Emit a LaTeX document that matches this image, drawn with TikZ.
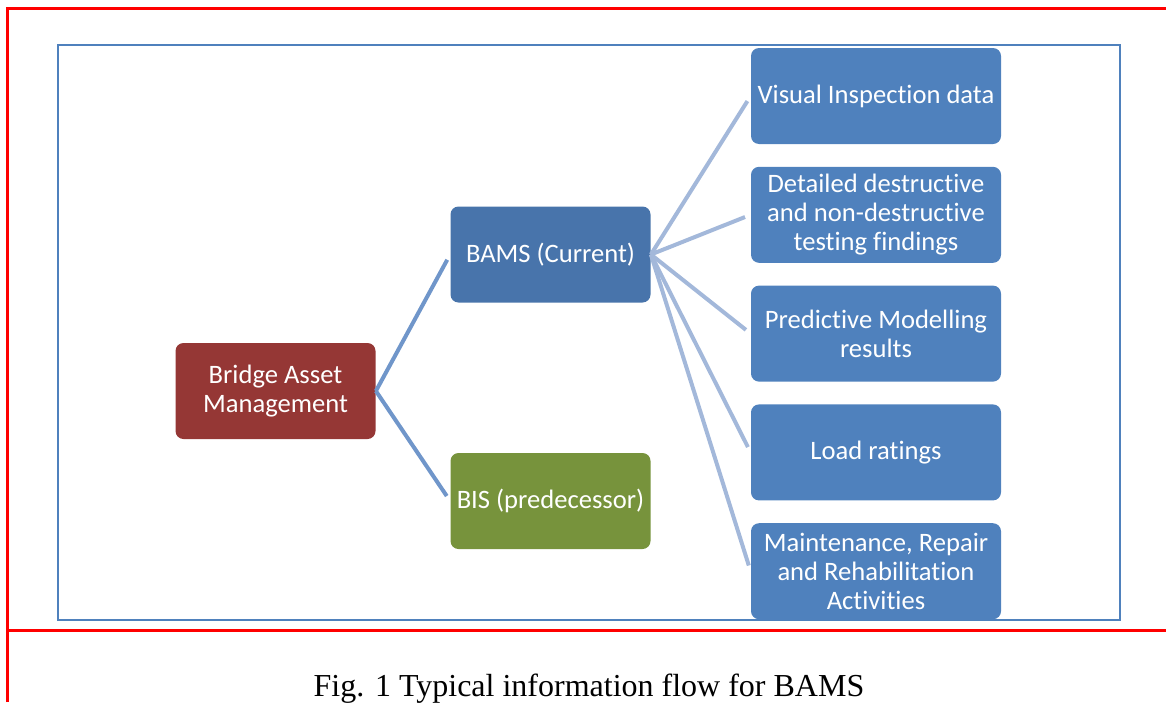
\documentclass[tikz,border=0pt]{standalone}
\usepackage{fontspec}
\setmainfont[Ligatures=NoCommon]{Carlito}
\newfontfamily\capfont{Liberation Serif}
\usetikzlibrary{positioning}

\definecolor{rootred}{HTML}{953735}
\definecolor{curblue}{HTML}{4874AB}
\definecolor{oldgreen}{HTML}{77933C}
\definecolor{itemblue}{HTML}{4F81BD}
\definecolor{linkdark}{HTML}{7096CA}
\definecolor{linklight}{HTML}{A3B8DA}
\definecolor{framered}{HTML}{FF0000}

\tikzset{
  box/.style = {rectangle, rounded corners=4pt, text=white, align=center,
    minimum height=48pt, inner sep=2pt, font=\fontsize{13.3}{14.5}\selectfont},
  midbox/.style = {box, minimum width=100pt},
  itembox/.style = {box, fill=itemblue, minimum width=125pt},
  link/.style = {line width=2pt, shorten >=3pt},
}

\begin{document}
\begin{tikzpicture}[x=0.5pt, y=-0.5pt]
		\useasboundingbox (0,0) rectangle (1166,702);

		% page rules
		\draw[framered, line width=1.5pt] (7,702) -- (7,8) -- (1166,8);
		\draw[framered, line width=1.5pt] (7,630) -- (1166,630);
		% figure frame
		\draw[itemblue, line width=1pt] (58,45) rectangle (1120,620);

		\node[midbox, fill=rootred] (bam) at (275.5,391) {Bridge Asset\\Management};
		\node[midbox, fill=curblue] (bams) at (550.5,254.5) {BAMS (Current)};
		\node[midbox, fill=oldgreen] (bis) at (550.5,501) {BIS (predecessor)};

		\node[itembox] (visual) at (876,96) {Visual Inspection data};
		\node[itembox, below=11pt of visual] (testing) {Detailed destructive\\and non-destructive\\testing findings};
		\node[itembox, below=11pt of testing] (model) {Predictive Modelling\\results};
		\node[itembox, below=11pt of model] (load) {Load ratings};
		\node[itembox, below=11pt of load] (mrr) {Maintenance, Repair\\and Rehabilitation\\Activities};

		\draw[link, linkdark] (bam.east) -- (bams.west);
		\draw[link, linkdark] (bam.east) -- (bis.west);
		\foreach \item in {visual, testing, model, load, mrr}
			\draw[link, linklight] (bams.east) -- (\item.west);

		\node[font=\capfont\fontsize{16}{19}\selectfont] (caption) at (589,689) {Fig. 1 Typical information flow for BAMS};
	\end{tikzpicture}
\end{document}
